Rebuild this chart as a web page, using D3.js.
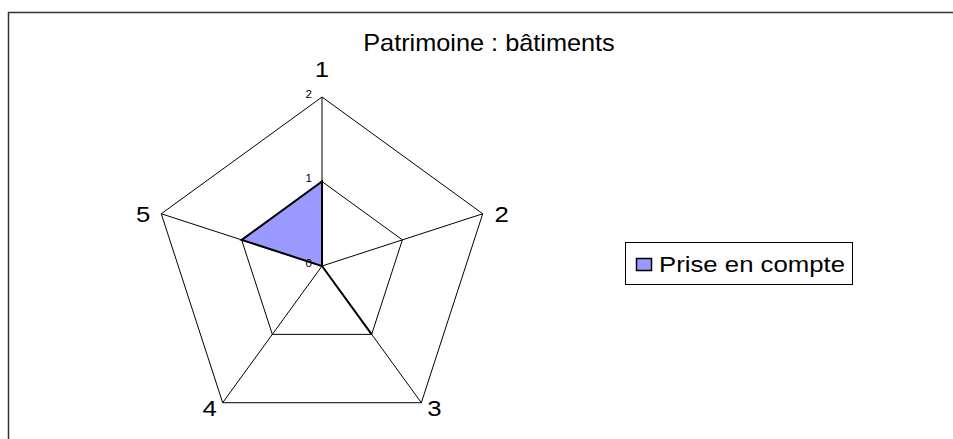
<!DOCTYPE html>
<html>
<head>
<meta charset="utf-8">
<script src="https://cdn.jsdelivr.net/npm/d3@7"></script>
<style>
  html, body { margin: 0; padding: 0; background: #fff; overflow: hidden; }
  svg { display: block; font-family: "Liberation Sans", Arial, sans-serif; }
</style>
</head>
<body>
<div id="chart"></div>
<script>
// chart data
const chartTitle = "Patrimoine : bâtiments";
const axisNames = ["1", "2", "3", "4", "5"];
const seriesName = "Prise en compte";
const seriesValues = [1, 0, 1, 0, 1];
const tickValues = [0, 1, 2];

(function(){
  const width = 953, height = 439;
  const cx = 322, cy = 266, radius = 169;
  const stretch = 1.12; // text looks horizontally stretched in the original

  const svg = d3.select("#chart").append("svg")
    .attr("width", width)
    .attr("height", height);

  // frame (only top and left edges are visible)
  svg.append("line")
    .attr("x1", 8.5).attr("y1", 12).attr("x2", 8.5).attr("y2", height)
    .attr("stroke", "#333").attr("stroke-width", 1.5);
  svg.append("line")
    .attr("x1", 8).attr("y1", 12.5).attr("x2", width).attr("y2", 12.5)
    .attr("stroke", "#333").attr("stroke-width", 1.5);

  const r = d3.scaleLinear().domain([0, 2]).range([0, radius]);
  const angle = d3.scaleLinear().domain([0, axisNames.length]).range([0, 2 * Math.PI]);

  const pt = (i, v) => [cx + r(v) * Math.sin(angle(i)), cy - r(v) * Math.cos(angle(i))];

  // helper: stretched text
  function label(x, y, txt, size, anchor, sx) {
    svg.append("text")
      .attr("transform", `translate(${x},${y}) scale(${sx || stretch},1)`)
      .attr("text-anchor", anchor || "middle")
      .attr("font-size", size)
      .attr("fill", "#000")
      .text(txt);
  }

  // grid rings
  const grid = svg.append("g").attr("fill", "none").attr("stroke", "#000").attr("stroke-width", 1);
  tickValues.filter(t => t > 0).forEach(t => {
    grid.append("polygon")
      .attr("points", axisNames.map((d, i) => pt(i, t).join(",")).join(" "));
  });
  // spokes
  axisNames.forEach((d, i) => {
    const [x2, y2] = pt(i, d3.max(tickValues));
    grid.append("line").attr("x1", cx).attr("y1", cy).attr("x2", x2).attr("y2", y2);
  });

  // series polygon
  svg.append("polygon")
    .attr("points", seriesValues.map((v, i) => pt(i, v).join(",")).join(" "))
    .attr("fill", "#9999ff")
    .attr("stroke", "#000")
    .attr("stroke-width", 2)
    .attr("stroke-linejoin", "miter");

  // tick labels along axis 1
  tickValues.forEach(t => {
    const [x, y] = pt(0, t);
    label(x - 10, y + 0.5, String(t), 11, "end", 1.05);
  });

  // axis names
  const offsets = [[0, -20], [19, 8], [13, 13], [-13, 13], [-18, 8]];
  axisNames.forEach((d, i) => {
    const [x, y] = pt(i, d3.max(tickValues));
    label(x + offsets[i][0], y + offsets[i][1], d, 23, "middle");
  });

  // title
  label(489, 51, chartTitle, 23, "middle", 1.1);

  // legend
  const lg = svg.append("g");
  lg.append("rect")
    .attr("x", 625.5).attr("y", 242.5)
    .attr("width", 227).attr("height", 42)
    .attr("fill", "#fff").attr("stroke", "#000").attr("stroke-width", 1);
  lg.append("rect")
    .attr("x", 636.5).attr("y", 258.5)
    .attr("width", 15).attr("height", 12)
    .attr("fill", "#9999ff").attr("stroke", "#000").attr("stroke-width", 1.5);
  label(659, 272, seriesName, 23, "start", 1.12);
})();
</script>
</body>
</html>
